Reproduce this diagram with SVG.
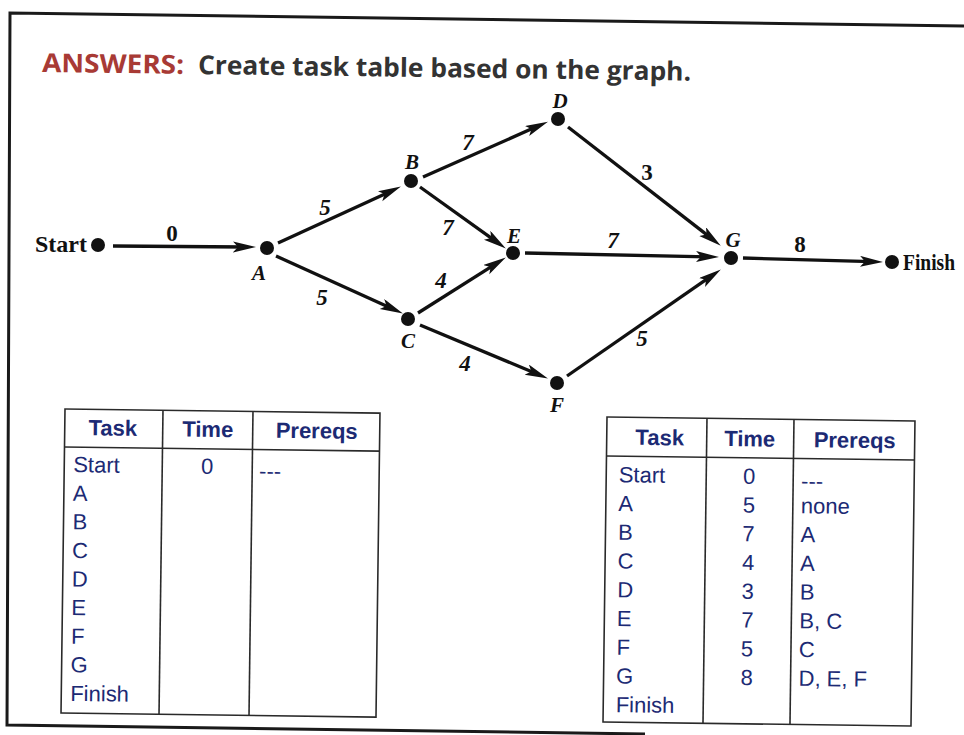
<svg xmlns="http://www.w3.org/2000/svg" width="964" height="735" viewBox="0 0 964 735">
<style>
.frame{stroke:#1a1a1a;stroke-width:3;fill:none}
.edge{stroke:#111;stroke-width:3.3;fill:none}
.dot{fill:#111}
.term{font-family:"Liberation Serif",serif;font-weight:bold;font-size:23px;fill:#111}
.lbl{font-family:"Liberation Serif",serif;font-style:italic;font-weight:bold;font-size:21px;fill:#111;text-anchor:middle}
.w{font-family:"Liberation Serif",serif;font-style:italic;font-weight:bold;font-size:23px;fill:#111;text-anchor:middle}
.up{font-style:normal}
.tb{stroke:#2a2a2a;stroke-width:1.6;fill:#fff}
.tl{stroke:#2a2a2a;stroke-width:1.6}
.th{font-family:"Liberation Sans",Arial,sans-serif;font-weight:bold;font-size:22px;fill:#1c2a74;text-anchor:middle}
.td{font-family:"Liberation Sans",Arial,sans-serif;font-size:22px;fill:#1c2a74}
.tc{text-anchor:middle}
</style>
<defs>
<marker id="arr" markerUnits="userSpaceOnUse" markerWidth="24" markerHeight="12" refX="12" refY="5.5" orient="auto" viewBox="0 0 24 12">
<path d="M0,0 L23,5.5 L0,11 L5,5.5 z" fill="#111"/>
</marker>
</defs>
<rect width="964" height="735" fill="#fff"/>
<g id="frame">
<polyline class="frame" points="964,26 10,13 7,725 645,734"/>
</g>
<g id="title" transform="rotate(0.75 42 72)">
<text x="42" y="72" font-family="'Open Sans','Liberation Sans',sans-serif" font-weight="bold" font-size="26" fill="#a83a35" textLength="142" lengthAdjust="spacingAndGlyphs">ANSWERS:</text>
<text x="198" y="72" font-family="'Open Sans','Liberation Sans',sans-serif" font-weight="bold" font-size="26" fill="#333" textLength="493" lengthAdjust="spacingAndGlyphs">Create task table based on the graph.</text>
</g>
<g id="connectors">
<line class="edge" x1="113" y1="246" x2="245" y2="247" marker-end="url(#arr)"/>
<line class="edge" x1="278" y1="243" x2="390.9" y2="191.2" marker-end="url(#arr)"/>
<line class="edge" x1="276" y1="256" x2="392.9" y2="308.9" marker-end="url(#arr)"/>
<line class="edge" x1="423" y1="177" x2="537.9" y2="126.1" marker-end="url(#arr)"/>
<line class="edge" x1="420" y1="187" x2="496.9" y2="242.2" marker-end="url(#arr)"/>
<line class="edge" x1="418" y1="313" x2="496.5" y2="263.3" marker-end="url(#arr)"/>
<line class="edge" x1="420" y1="325" x2="537.8" y2="374.2" marker-end="url(#arr)"/>
<line class="edge" x1="568" y1="127" x2="712.1" y2="238.9" marker-end="url(#arr)"/>
<line class="edge" x1="525" y1="253" x2="708" y2="256.8" marker-end="url(#arr)"/>
<line class="edge" x1="567" y1="376" x2="711.8" y2="275.7" marker-end="url(#arr)"/>
<line class="edge" x1="743" y1="258" x2="872" y2="261.7" marker-end="url(#arr)"/>
<text class="w up" x="172" y="241">0</text>
<text class="w" x="325" y="215">5</text>
<text class="w" x="322" y="305">5</text>
<text class="w" x="468" y="150">7</text>
<text class="w" x="448" y="235">7</text>
<text class="w" x="441" y="288">4</text>
<text class="w" x="465" y="371">4</text>
<text class="w up" x="647" y="180">3</text>
<text class="w" x="613" y="248">7</text>
<text class="w up" x="800" y="252">8</text>
<text class="w" x="642" y="346">5</text>
</g>
<g id="node-start"><circle class="dot" cx="98" cy="245" r="7"/><text class="term" x="35" y="252" textLength="52" lengthAdjust="spacingAndGlyphs">Start</text></g>
<g id="node-a"><circle class="dot" cx="267" cy="248" r="7"/><text class="lbl" x="259" y="280">A</text></g>
<g id="node-b"><circle class="dot" cx="411" cy="181" r="7"/><text class="lbl" x="412" y="169">B</text></g>
<g id="node-c"><circle class="dot" cx="408" cy="319" r="7"/><text class="lbl" x="408" y="348">C</text></g>
<g id="node-d"><circle class="dot" cx="558" cy="119" r="7"/><text class="lbl" x="560" y="108">D</text></g>
<g id="node-e"><circle class="dot" cx="513" cy="253" r="7"/><text class="lbl" x="514" y="243">E</text></g>
<g id="node-f"><circle class="dot" cx="557" cy="383" r="7"/><text class="lbl" x="557" y="412">F</text></g>
<g id="node-g"><circle class="dot" cx="731" cy="258" r="7"/><text class="lbl" x="733" y="247">G</text></g>
<g id="node-finish"><circle class="dot" cx="892" cy="262" r="7"/><text class="term" x="903" y="270" font-size="22" textLength="52" lengthAdjust="spacingAndGlyphs">Finish</text></g>
<g id="table-blank" transform="rotate(0.75 65 409)">
<rect class="tb" x="65" y="409" width="315" height="304"/>
<line class="tl" x1="65" y1="447" x2="380" y2="447"/>
<line class="tl" x1="163" y1="409" x2="163" y2="713"/>
<line class="tl" x1="253" y1="409" x2="253" y2="713"/>
<text class="th" x="113" y="435">Task</text>
<text class="th" x="208" y="435">Time</text>
<text class="th" x="317" y="435">Prereqs</text>
<text class="td" x="74" y="472">Start</text>
<text class="td" x="74" y="500.6">A</text>
<text class="td" x="74" y="529.2">B</text>
<text class="td" x="74" y="557.8">C</text>
<text class="td" x="74" y="586.4">D</text>
<text class="td" x="74" y="615">E</text>
<text class="td" x="74" y="643.6">F</text>
<text class="td" x="74" y="672.2">G</text>
<text class="td" x="74" y="700.8">Finish</text>
<text class="td tc" x="208" y="472">0</text>
<text class="td" x="260" y="476">---</text>
</g>
<g id="table-answers" transform="rotate(0.75 607 417)">
<rect class="tb" x="607" y="417" width="308" height="305"/>
<line class="tl" x1="607" y1="456" x2="915" y2="456"/>
<line class="tl" x1="707" y1="417" x2="707" y2="722"/>
<line class="tl" x1="794" y1="417" x2="794" y2="722"/>
<text class="th" x="660" y="444.5">Task</text>
<text class="th" x="750" y="444.5">Time</text>
<text class="th" x="855" y="444.5">Prereqs</text>
<text class="td" x="619.5" y="482">Start</text>
<text class="td" x="619.5" y="510.75">A</text>
<text class="td" x="619.5" y="539.5">B</text>
<text class="td" x="619.5" y="568.25">C</text>
<text class="td" x="619.5" y="597">D</text>
<text class="td" x="619.5" y="625.75">E</text>
<text class="td" x="619.5" y="654.5">F</text>
<text class="td" x="619.5" y="683.25">G</text>
<text class="td" x="619.5" y="712">Finish</text>
<text class="td tc" x="750" y="482">0</text>
<text class="td tc" x="750" y="510.75">5</text>
<text class="td tc" x="750" y="539.5">7</text>
<text class="td tc" x="750" y="568.25">4</text>
<text class="td tc" x="750" y="597">3</text>
<text class="td tc" x="750" y="625.75">7</text>
<text class="td tc" x="750" y="654.5">5</text>
<text class="td tc" x="750" y="683.25">8</text>
<text class="td" x="802" y="486">---</text>
<text class="td" x="802" y="510.75">none</text>
<text class="td" x="802" y="539.5">A</text>
<text class="td" x="802" y="568.25">A</text>
<text class="td" x="802" y="597">B</text>
<text class="td" x="802" y="625.75">B, C</text>
<text class="td" x="802" y="654.5">C</text>
<text class="td" x="802" y="683.25">D, E, F</text>
</g>
</svg>
